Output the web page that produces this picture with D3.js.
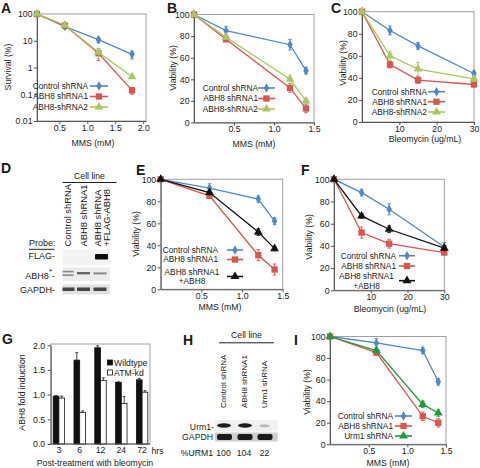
<!DOCTYPE html>
<html><head><meta charset="utf-8">
<script src="https://cdn.jsdelivr.net/npm/d3@7"></script>
<style>
body{margin:0;background:#fff}
svg{display:block}
text{font-family:"Liberation Sans",Arial,Helvetica,sans-serif;fill:#1a1a1a}
</style>
</head><body>
<svg id="c" width="480" height="468"></svg>
<script>
// ---------------- DATA ----------------
const legend3 = ["Control shRNA", "ABH8 shRNA1", "ABH8-shRNA2"];
const legendRescue = ["Control shRNA", "ABH8 shRNA1", "ABH8 shRNA1", "+ABH8"];
const legendUrm = ["Control shRNA", "ABH8 shRNA1", "Urm1 shRNA"];

// Panel A (survival, log scale)
const aDose = [0.1, 0.6, 1.2, 1.8];
const aControl = [100, 34, 11, 3.1];
const aShRNA1 = [100, 37, 3.4, 0.14];
const aShRNA2 = [100, 38, 3.7, 0.45];
const aControlErr = [0, 5, 2.5, 1.0];
const aShRNA1Err = [0, 4, 1.6, 0.04];
const aShRNA2Err = [0, 4, 1.5, 0.05];
const aXTicks = [0.5, 1.0, 1.5, 2.0];
const aYTicks = [0.01, 0.1, 1, 10, 100];

// Panel B (viability, MMS)
const bDose = [0, 0.4, 1.2, 1.4];
const bControl = [100, 85, 72, 48];
const bShRNA1 = [100, 77, 32, 13];
const bShRNA2 = [100, 79, 40, 20];
const bControlErr = [0, 4, 5, 3];
const bShRNA1Err = [0, 2, 4, 4];
const bShRNA2Err = [0, 2, 4, 2];

// Panel C (viability, bleomycin)
const cDose = [0, 7.5, 15, 30];
const cControl = [100, 83, 69, 44];
const cShRNA1 = [100, 52, 38, 34];
const cShRNA2 = [100, 60, 48, 39];
const cControlErr = [0, 4, 3, 2];
const cShRNA1Err = [0, 3, 3, 2];
const cShRNA2Err = [0, 4, 6, 2];

// Panel E (rescue, MMS)
const eDose = [0, 0.6, 1.2, 1.4];
const eControl = [100, 92, 82, 62];
const eShRNA1 = [100, 85, 31, 18];
const eRescue = [100, 88, 52, 37];
const eControlErr = [0, 4, 3, 3];
const eShRNA1Err = [0, 2, 5, 5];
const eRescueErr = [0, 2, 3, 2];

// Panel F (rescue, bleomycin)
const fDose = [0, 7.5, 15, 30];
const fControl = [100, 88, 73, 39];
const fShRNA1 = [100, 52, 42, 34];
const fRescue = [100, 67, 55, 38];
const fControlErr = [0, 3, 5, 4];
const fShRNA1Err = [0, 5, 4, 2];
const fRescueErr = [0, 2, 3, 2];

// Panel I (Urm1, MMS)
const iDose = [0, 0.6, 1.2, 1.4];
const iControl = [100, 94, 87, 58];
const iShRNA1 = [100, 85, 26, 20];
const iUrm1 = [100, 87, 37, 29];
const iControlErr = [0, 4, 3, 3];
const iShRNA1Err = [0, 2, 4, 4];
const iUrm1Err = [0, 2, 3, 3];

const mmsTicks = [0.5, 1.0, 1.5];
const bleoTicks = [10, 20, 30];
const viaTicks = [0, 20, 40, 60, 80, 100];

// Panel G (bar chart)
const gTimes = ["3", "6", "12", "24", "72"];
const gWildtype = [0.97, 1.70, 1.95, 1.25, 1.30];
const gWildtypeErr = [0.01, 0.15, 0.04, 0.01, 0.03];
const gAtmKd = [0.93, 0.64, 1.29, 0.82, 1.05];
const gAtmKdErr = [0.04, 0.03, 0.05, 0.14, 0.03];
const gYTicks = [0, 0.5, 1.0, 1.5, 2.0];
const gSeries = ["Wildtype", "ATM-kd"];

// Panel D (blot)
const dLanes = [["Control shRNA"], ["ABH8 shRNA1"], ["ABH8 shRNA", "+FLAG-ABH8"]];
const dProbes = ["FLAG-", "ABH8", "GAPDH-"];
// Panel H (blot)
const hLanes = ["Control shRNA", "ABH8 shRNA1", "Urm1 shRNA"];
const hProbes = ["Urm1-", "GAPDH"];
const hUrm1Pct = [100, 104, 22];

// ---------------- STYLE ----------------
const BLUE = "#4f87c7", RED = "#d9554d", LGREEN = "#a6c85e", BLACK = "#111", DGREEN = "#1f9a3c";
const FS = 8.7, LFS = 8.3;
const svg = d3.select("#c");

const defs = svg.append("defs");
defs.append("filter").attr("id","blur").attr("x","-30%").attr("y","-60%").attr("width","160%").attr("height","220%")
  .append("feGaussianBlur").attr("stdDeviation", 0.7);

function txt(g, x, y, s, o = {}) {
  const t = g.append("text").attr("x", x).attr("y", y).text(s)
    .attr("font-size", o.fs || FS).attr("text-anchor", o.anchor || "start");
  if (o.bold) t.attr("font-weight", "bold");
  if (o.rot) t.attr("transform", `rotate(${o.rot},${x},${y})`);
  if (o.dy) t.attr("dy", o.dy);
  return t;
}

function marker(type) {
  if (type === "square") return d3.symbol().type(d3.symbolSquare).size(40)();
  if (type === "triangle") return d3.symbol().type(d3.symbolTriangle).size(34)();
  return d3.symbol().type(d3.symbolDiamond).size(26)();
}

function styleAxis(a) {
  a.select(".domain").attr("stroke", "#555");
  a.selectAll(".tick line").attr("stroke", "#555");
  a.selectAll(".tick text").attr("font-size", FS).attr("fill", "#1a1a1a")
    .attr("font-family", '"Liberation Sans",Arial,sans-serif');
}

function linePanel(c) {
  const g = svg.append("g");
  const x = d3.scaleLinear().domain(c.xDomain).range([c.left, c.right]);
  const y = (c.log ? d3.scaleLog() : d3.scaleLinear()).domain(c.yDomain).range([c.bottom, c.top]);
  g.append("rect").attr("x", c.left).attr("y", c.top).attr("width", c.right - c.left)
    .attr("height", c.bottom - c.top).attr("fill", "none").attr("stroke", "#a0a0a0");
  const ax = g.append("g").attr("transform", `translate(0,${c.bottom})`)
    .call(d3.axisBottom(x).tickValues(c.xTicks).tickSize(3).tickSizeOuter(0).tickPadding(0.5)
      .tickFormat(c.xFmt || (d => d)));
  styleAxis(ax);
  const ay = g.append("g").attr("transform", `translate(${c.left},0)`)
    .call(d3.axisLeft(y).tickValues(c.yTicks).tickSize(3).tickSizeOuter(0).tickPadding(1.5)
      .tickFormat(c.yFmt || (d => d)));
  styleAxis(ay);

  const line = d3.line().x(d => x(d[0])).y(d => y(d[1]));
  c.series.forEach(s => {
    const pts = s.x.map((v, i) => [v, s.y[i], s.err[i]]);
    pts.forEach(p => {
      if (!p[2]) return;
      const lo = c.log ? Math.max(p[1] - p[2], c.yDomain[0] * 1.05) : p[1] - p[2];
      const hi = p[1] + p[2];
      const eg = g.append("g").attr("stroke", s.errColor || s.color).attr("stroke-width", 0.9);
      eg.append("line").attr("x1", x(p[0])).attr("x2", x(p[0])).attr("y1", y(lo)).attr("y2", y(hi));
      eg.append("line").attr("x1", x(p[0]) - 1.8).attr("x2", x(p[0]) + 1.8).attr("y1", y(hi)).attr("y2", y(hi));
      eg.append("line").attr("x1", x(p[0]) - 1.8).attr("x2", x(p[0]) + 1.8).attr("y1", y(lo)).attr("y2", y(lo));
    });
    g.append("path").attr("d", line(pts)).attr("fill", "none").attr("stroke", s.color).attr("stroke-width", 1.3);
    g.selectAll(null).data(pts).enter().append("path").attr("d", marker(s.marker))
      .attr("transform", d => `translate(${x(d[0])},${y(d[1])})`).attr("fill", s.color);
  });

  const L = c.legend;
  c.series.forEach((s, i) => {
    const ly = L.rows[i];
    if (s.label2) {
      txt(g, L.twoLineX, ly - 4.5, s.label, { anchor: "middle", fs: LFS }).attr("dy", "0.35em");
      txt(g, L.twoLineX, ly + 5, s.label2, { anchor: "middle", fs: LFS }).attr("dy", "0.35em");
    } else {
      txt(g, L.tx, ly, s.label, { anchor: "end", fs: LFS }).attr("dy", "0.35em");
    }
    g.append("line").attr("x1", L.lx1).attr("x2", L.lx2).attr("y1", ly).attr("y2", ly)
      .attr("stroke", s.color).attr("stroke-width", 1.6);
    g.append("path").attr("d", marker(s.marker)).attr("fill", s.color)
      .attr("transform", `translate(${(L.lx1 + L.lx2) / 2},${ly})`);
  });

  txt(g, c.yLabelX, c.yLabelY, c.yLabel, { anchor: "middle", rot: -90 }).attr("dy", "0.35em");
  txt(g, c.xLabelX, c.xLabelY, c.xLabel, { anchor: "middle" });
  txt(g, c.letterX, c.letterY, c.letter, { bold: true, fs: 14 });
}

const fmtLog = d => (d >= 1 ? d3.format("d")(d) : String(d));

linePanel({
  letter: "A", letterX: 1, letterY: 12.5,
  left: 37, right: 146, top: 14, bottom: 121,
  xDomain: [0.1, 2.05], yDomain: [0.01, 100], log: true,
  xTicks: aXTicks, yTicks: aYTicks, xFmt: d3.format(".1f"), yFmt: fmtLog,
  yLabel: "Survival (%)", yLabelX: 8, yLabelY: 67,
  xLabel: "MMS (mM)", xLabelX: 93, xLabelY: 146,
  series: [
    { label: legend3[0], x: aDose, y: aControl, err: aControlErr, color: BLUE, marker: "diamond" },
    { label: legend3[1], x: aDose, y: aShRNA1, err: aShRNA1Err, color: RED, marker: "square" },
    { label: legend3[2], x: aDose, y: aShRNA2, err: aShRNA2Err, color: LGREEN, marker: "triangle" }
  ],
  legend: { tx: 88, lx1: 90, lx2: 108, rows: [86, 96.5, 107] }
});

linePanel({
  letter: "B", letterX: 167, letterY: 12.5,
  left: 194, right: 314, top: 14.5, bottom: 122.5,
  xDomain: [0, 1.5], yDomain: [0, 100],
  xTicks: mmsTicks, yTicks: viaTicks, xFmt: d3.format(".1f"),
  yLabel: "Viability (%)", yLabelX: 173, yLabelY: 68,
  xLabel: "MMS (mM)", xLabelX: 254, xLabelY: 146.5,
  series: [
    { label: legend3[0], x: bDose, y: bControl, err: bControlErr, color: BLUE, marker: "diamond" },
    { label: legend3[1], x: bDose, y: bShRNA1, err: bShRNA1Err, color: RED, marker: "square" },
    { label: legend3[2], x: bDose, y: bShRNA2, err: bShRNA2Err, color: LGREEN, marker: "triangle" }
  ],
  legend: { tx: 258, lx1: 258, lx2: 275, rows: [88, 98.5, 109] }
});

linePanel({
  letter: "C", letterX: 331, letterY: 13,
  left: 362, right: 474, top: 11.7, bottom: 122,
  xDomain: [0, 30], yDomain: [0, 100],
  xTicks: bleoTicks, yTicks: viaTicks,
  yLabel: "Viability (%)", yLabelX: 343, yLabelY: 63,
  xLabel: "Bleomycin (ug/mL)", xLabelX: 425, xLabelY: 141.5,
  series: [
    { label: legend3[0], x: cDose, y: cControl, err: cControlErr, color: BLUE, marker: "diamond" },
    { label: legend3[1], x: cDose, y: cShRNA1, err: cShRNA1Err, color: RED, marker: "square" },
    { label: legend3[2], x: cDose, y: cShRNA2, err: cShRNA2Err, color: LGREEN, marker: "triangle" }
  ],
  legend: { tx: 427, lx1: 428, lx2: 445, rows: [91.7, 101.7, 112] }
});

linePanel({
  letter: "E", letterX: 136, letterY: 175,
  left: 160.7, right: 282.7, top: 179.3, bottom: 289.3,
  xDomain: [0, 1.5], yDomain: [0, 100],
  xTicks: mmsTicks, yTicks: viaTicks, xFmt: d3.format(".1f"),
  yLabel: "Viability (%)", yLabelX: 136, yLabelY: 234,
  xLabel: "MMS (mM)", xLabelX: 220, xLabelY: 310,
  series: [
    { label: legendRescue[0], x: eDose, y: eControl, err: eControlErr, color: BLUE, marker: "diamond" },
    { label: legendRescue[1], x: eDose, y: eShRNA1, err: eShRNA1Err, color: RED, marker: "square" },
    { label: legendRescue[2], label2: legendRescue[3], x: eDose, y: eRescue, err: eRescueErr, color: BLACK, marker: "triangle" }
  ],
  legend: { tx: 218, lx1: 227, lx2: 243, rows: [250, 259.5, 276.5], twoLineX: 192 }
});

linePanel({
  letter: "F", letterX: 301, letterY: 175,
  left: 334, right: 444.3, top: 179.3, bottom: 290.3,
  xDomain: [0, 30], yDomain: [0, 100],
  xTicks: bleoTicks, yTicks: viaTicks,
  yLabel: "Viability (%)", yLabelX: 309, yLabelY: 237,
  xLabel: "Bleomycin (ug/mL)", xLabelX: 390, xLabelY: 312,
  series: [
    { label: legendRescue[0], x: fDose, y: fControl, err: fControlErr, color: BLUE, marker: "diamond" },
    { label: legendRescue[1], x: fDose, y: fShRNA1, err: fShRNA1Err, color: RED, marker: "square" },
    { label: legendRescue[2], label2: legendRescue[3], x: fDose, y: fRescue, err: fRescueErr, color: BLACK, marker: "triangle" }
  ],
  legend: { tx: 396, lx1: 399, lx2: 415, rows: [255.7, 266, 280.7], twoLineX: 366.5 }
});

linePanel({
  letter: "I", letterX: 294, letterY: 345,
  left: 330, right: 446, top: 336.5, bottom: 444.3,
  xDomain: [0, 1.5], yDomain: [0, 100],
  xTicks: mmsTicks, yTicks: viaTicks, xFmt: d3.format(".1f"),
  yLabel: "Viability (%)", yLabelX: 306.5, yLabelY: 392,
  xLabel: "MMS (mM)", xLabelX: 388, xLabelY: 466,
  series: [
    { label: legendUrm[0], x: iDose, y: iControl, err: iControlErr, color: BLUE, marker: "diamond" },
    { label: legendUrm[1], x: iDose, y: iShRNA1, err: iShRNA1Err, color: RED, marker: "square" },
    { label: legendUrm[2], x: iDose, y: iUrm1, err: iUrm1Err, color: DGREEN, marker: "triangle" }
  ],
  legend: { tx: 393, lx1: 395, lx2: 412, rows: [416, 426, 436] }
});

// ---------------- G bar chart ----------------
(function () {
  const g = svg.append("g");
  const left = 50.7, right = 150, top = 344, bottom = 444;
  const x = d3.scaleBand().domain(gTimes).range([48.5, 152.5]).paddingInner(0.45).paddingOuter(0.225);
  const xs = d3.scaleBand().domain(gSeries).range([0, x.bandwidth()]);
  const y = d3.scaleLinear().domain([0, 2]).range([bottom, 345.3]);
  g.append("rect").attr("x", left).attr("y", top).attr("width", right - left).attr("height", bottom - top)
    .attr("fill", "none").attr("stroke", "#a0a0a0");
  const vals = [gWildtype, gAtmKd], errs = [gWildtypeErr, gAtmKdErr];
  gSeries.forEach((s, si) => {
    gTimes.forEach((t, i) => {
      const bx = x(t) + xs(s), bw = xs.bandwidth();
      const v = vals[si][i], e = errs[si][i];
      g.append("line").attr("x1", bx + bw / 2).attr("x2", bx + bw / 2).attr("y1", y(v)).attr("y2", y(v + e))
        .attr("stroke", "#333").attr("stroke-width", 0.9);
      g.append("line").attr("x1", bx + bw / 2 - 1.5).attr("x2", bx + bw / 2 + 1.5).attr("y1", y(v + e)).attr("y2", y(v + e))
        .attr("stroke", "#333").attr("stroke-width", 0.9);
      g.append("rect").attr("x", bx).attr("y", y(v)).attr("width", bw).attr("height", bottom - y(v))
        .attr("fill", si === 0 ? "#111" : "#fff").attr("stroke", "#111").attr("stroke-width", 0.8);
    });
  });
  const ax = g.append("g").attr("transform", `translate(0,${bottom})`)
    .call(d3.axisBottom(x).tickSize(0).tickPadding(3));
  styleAxis(ax);
  ax.select(".domain").remove();
  g.append("line").attr("x1", left).attr("x2", right).attr("y1", bottom).attr("y2", bottom).attr("stroke", "#555");
  const ay = g.append("g").attr("transform", `translate(${left},0)`)
    .call(d3.axisLeft(y).tickValues(gYTicks).tickSize(3).tickSizeOuter(0).tickPadding(2.5).tickFormat(d3.format(".1f")));
  styleAxis(ay);
  txt(g, 151.5, 453.5, "hrs");
  txt(g, 21.5, 392.5, "ABH8 fold induction", { anchor: "middle", rot: -90 }).attr("dy", "0.35em");
  txt(g, 95, 466, "Post-treatment with bleomycin", { anchor: "middle" });
  txt(g, 2, 344, "G", { bold: true, fs: 14 });
  const lg = [[gSeries[0], "#111", 362.5], [gSeries[1], "#fff", 372.5]];
  lg.forEach(l => {
    g.append("rect").attr("x", 107.5).attr("y", l[2] - 2.5).attr("width", 5).attr("height", 5)
      .attr("fill", l[1]).attr("stroke", "#111").attr("stroke-width", 0.8);
    txt(g, 114, l[2], l[0]).attr("dy", "0.35em");
  });
})();

// ---------------- D blot ----------------
(function () {
  const g = svg.append("g");
  txt(g, 1, 173, "D", { bold: true, fs: 14 });
  txt(g, 89.5, 178.5, "Cell line", { anchor: "middle" });
  g.append("line").attr("x1", 62.5).attr("x2", 116.5).attr("y1", 182.5).attr("y2", 182.5).attr("stroke", "#222").attr("stroke-width", 1);
  const laneX = [67.5, 84, 100.5];
  const DFS = 9.4;
  dLanes.forEach((l, i) => {
    if (l.length === 1) {
      txt(g, laneX[i], 246.5, l[0], { anchor: "start", rot: -90, fs: DFS }).attr("dy", "0.35em");
    } else {
      txt(g, laneX[i] - 2.5, 246.5, l[0], { anchor: "start", rot: -90, fs: DFS }).attr("dy", "0.35em");
      txt(g, laneX[i] + 6.5, 246.5, l[1], { anchor: "start", rot: -90, fs: DFS }).attr("dy", "0.35em");
    }
  });
  txt(g, 29, 246, "Probe:", { fs: 9 });
  g.append("line").attr("x1", 29).attr("x2", 54.5).attr("y1", 249.3).attr("y2", 249.3).attr("stroke", "#222");
  txt(g, 55, 258.5, dProbes[0], { anchor: "end", fs: 9 });
  const ab = g.append("text").attr("x", 55).attr("y", 278.5).attr("font-size", 9).attr("text-anchor", "end");
  ab.append("tspan").text(dProbes[1]);
  ab.append("tspan").attr("dy", -5).attr("font-size", 8).text("*");
  ab.append("tspan").attr("dy", 5).text("-");
  txt(g, 55, 293, dProbes[2], { anchor: "end", fs: 9 });
  g.append("rect").attr("x", 62.5).attr("y", 249.5).attr("width", 47.5).attr("height", 16).attr("fill", "#f3f3f3");
  g.append("rect").attr("x", 62.5).attr("y", 267.5).attr("width", 47.5).attr("height", 13.5).attr("fill", "#ececec");
  g.append("rect").attr("x", 62.5).attr("y", 284.5).attr("width", 47.5).attr("height", 10).attr("fill", "#e2e2e2");
  const b = g.append("g").attr("filter", "url(#blur)");
  b.append("rect").attr("x", 95).attr("y", 254).attr("width", 13).attr("height", 5.5).attr("fill", "#111").attr("rx", 1);
  b.append("rect").attr("x", 62.5).attr("y", 270.8).attr("width", 11).attr("height", 1.6).attr("fill", "#888");
  b.append("rect").attr("x", 62.5).attr("y", 274.3).attr("width", 11).attr("height", 1.6).attr("fill", "#888");
  b.append("rect").attr("x", 77).attr("y", 272).attr("width", 13).attr("height", 2.4).attr("fill", "#666");
  b.append("rect").attr("x", 93.5).attr("y", 272.4).attr("width", 13).attr("height", 2).attr("fill", "#888");
  [62.5, 77, 93.5].forEach((xx, i) => {
    b.append("rect").attr("x", xx).attr("y", 287.5).attr("width", i ? 13 : 12).attr("height", 3.5).attr("fill", "#444");
  });
})();

// ---------------- H blot ----------------
(function () {
  const g = svg.append("g");
  txt(g, 183, 345, "H", { bold: true, fs: 14 });
  txt(g, 246.5, 338, "Cell line", { anchor: "middle" });
  g.append("line").attr("x1", 219).attr("x2", 274).attr("y1", 342.8).attr("y2", 342.8).attr("stroke", "#222");
  const laneX = [223.5, 244, 264.5];
  hLanes.forEach((l, i) => {
    txt(g, laneX[i], 408, l, { anchor: "start", rot: -90, fs: 8 }).attr("dy", "0.35em");
  });
  txt(g, 214, 429.5, hProbes[0], { anchor: "end" });
  txt(g, 213, 440, hProbes[1], { anchor: "end" });
  txt(g, 213, 455.5, "%URM1", { anchor: "end" });
  hUrm1Pct.forEach((v, i) => txt(g, laneX[i], 455.5, String(v), { anchor: "middle" }));
  g.append("rect").attr("x", 215).attr("y", 420).attr("width", 62.5).attr("height", 11.5).attr("fill", "#f0f0f0");
  g.append("rect").attr("x", 215).attr("y", 432.5).attr("width", 62.5).attr("height", 9).attr("fill", "#cfcfcf");
  const b = g.append("g").attr("filter", "url(#blur)");
  b.append("ellipse").attr("cx", 224).attr("cy", 425.5).attr("rx", 7).attr("ry", 2.2).attr("fill", "#1a1a1a");
  b.append("ellipse").attr("cx", 245).attr("cy", 425.5).attr("rx", 7).attr("ry", 2.2).attr("fill", "#1a1a1a");
  b.append("ellipse").attr("cx", 264.5).attr("cy", 425.8).attr("rx", 5).attr("ry", 1.6).attr("fill", "#bbb");
  [217, 237.5, 257.5].forEach(xx => {
    b.append("rect").attr("x", xx).attr("y", 434).attr("width", 15).attr("height", 6).attr("rx", 2).attr("fill", "#1a1a1a");
  });
})();
</script>
</body></html>
